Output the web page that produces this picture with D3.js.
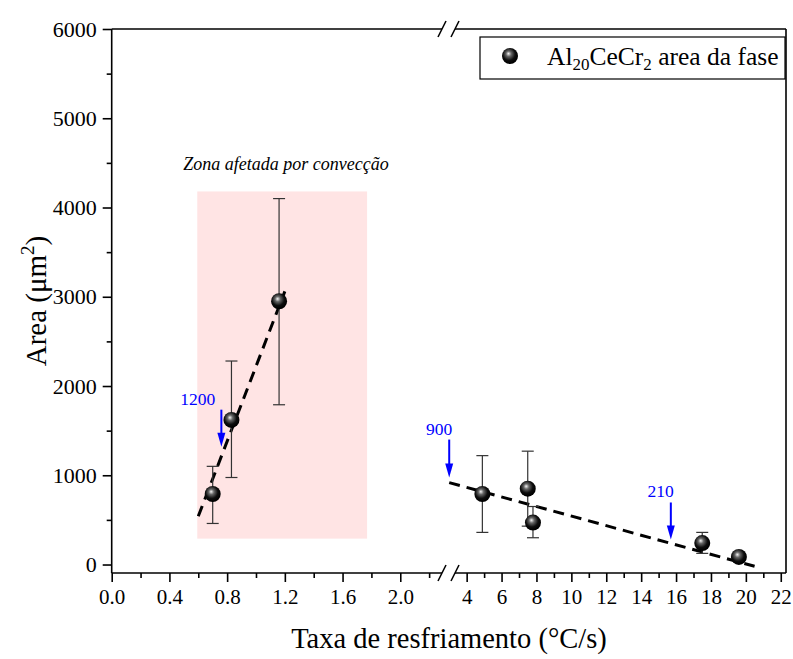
<!DOCTYPE html>
<html>
<head>
<meta charset="utf-8">
<script src="https://cdn.jsdelivr.net/npm/d3@7"></script>
<style>
  body { margin: 0; background: #fff; }
  svg text { font-family: "Liberation Serif", "DejaVu Serif", serif; }
</style>
</head>
<body>
<div id="vis"></div>
<script>
// data
var xLeft = [0.70, 0.83, 1.16];
var yLeft = [790, 1620, 2950];
var hiLeft = [1100, 2280, 4100];
var loLeft = [460, 975, 1790];

var xRight = [4.9, 7.5, 7.8, 17.5, 19.6];
var yRight = [790, 850, 470, 240, 85];
var hiRight = [1220, 1270, 650, 360, 130];
var loRight = [360, 430, 300, 125, 50];

// dashed fit lines
var fitLeftX = [0.6, 1.2];
var fitLeftY = [540, 3060];
var fitRightX = [3.0, 20.5];
var fitRightY = [918, -20];

// arrows (x, tail value, tip value, label)
var arrowSide = ["left", "right", "right"];
var arrowX = [0.76, 3.0, 15.7];
var arrowFrom = [1735, 1400, 695];
var arrowTo = [1320, 975, 280];
var arrowLabel = ["1200", "900", "210"];

// shaded zone
var zoneX = [0.593, 1.77];
var zoneY = [290, 4180];

var leftTicks = [0.0, 0.4, 0.8, 1.2, 1.6, 2.0];
var rightTicks = [4, 6, 8, 10, 12, 14, 16, 18, 20, 22];
var yTicks = [0, 1000, 2000, 3000, 4000, 5000, 6000];

var w = 793, h = 659;
var mTop = 29, mBottom = 573, mLeft = 111.7, mRight = 786;
var breakL = 445, breakR = 452;
var serif = "'Liberation Serif', 'DejaVu Serif', serif";

var svg = d3.select("#vis").append("svg")
  .attr("width", w).attr("height", h);

var defs = svg.append("defs");
var grad = defs.append("radialGradient").attr("id", "ball")
  .attr("cx", "45%").attr("cy", "40%").attr("r", "55%")
  .attr("fx", "40%").attr("fy", "35%");
grad.append("stop").attr("offset", "0%").attr("stop-color", "#f4f4f4");
grad.append("stop").attr("offset", "30%").attr("stop-color", "#666");
grad.append("stop").attr("offset", "70%").attr("stop-color", "#0d0d0d");
grad.append("stop").attr("offset", "100%").attr("stop-color", "#000");

var xL = d3.scaleLinear().domain([0, 2.31]).range([mLeft, breakL]);
var xR = d3.scaleLinear().domain([3.16, 22.3]).range([breakR, mRight]);
var y = d3.scaleLinear().domain([-95, 6000]).range([mBottom, mTop]);

// shaded zone
svg.append("rect")
  .attr("x", xL(zoneX[0])).attr("y", y(zoneY[1]))
  .attr("width", xL(zoneX[1]) - xL(zoneX[0]))
  .attr("height", y(zoneY[0]) - y(zoneY[1]))
  .attr("fill", "#ffe4e4");

svg.append("text")
  .attr("x", 286).attr("y", 170)
  .attr("text-anchor", "middle")
  .style("font-size", "18px").style("font-style", "italic")
  .text("Zona  afetada por convecção");

// frame
var frame = svg.append("g").attr("stroke", "#000").attr("stroke-width", 1.6).attr("fill", "none");
frame.append("line").attr("x1", mLeft).attr("x2", mLeft).attr("y1", mTop).attr("y2", mBottom);
frame.append("line").attr("x1", mRight).attr("x2", mRight).attr("y1", mTop).attr("y2", mBottom);
[mTop, mBottom].forEach(function (yy) {
  frame.append("line").attr("x1", mLeft).attr("x2", breakL - 3).attr("y1", yy).attr("y2", yy);
  frame.append("line").attr("x1", breakR + 3).attr("x2", mRight).attr("y1", yy).attr("y2", yy);
  frame.append("line").attr("x1", breakL - 7).attr("x2", breakL + 1).attr("y1", yy + 8).attr("y2", yy - 8);
  frame.append("line").attr("x1", breakR - 1).attr("x2", breakR + 7).attr("y1", yy + 8).attr("y2", yy - 8);
});

// axes
function styleAxis(size) {
  return function (g) {
    g.select(".domain").remove();
    g.selectAll("line").attr("stroke", "#000").attr("stroke-width", 1.6);
    g.selectAll("text").style("font-size", size + "px").attr("fill", "#000")
      .style("font-family", serif);
  };
}

svg.append("g").attr("transform", "translate(0," + mBottom + ")")
  .call(d3.axisBottom(xL).tickValues(leftTicks).tickFormat(d3.format(".1f")).tickSize(9).tickPadding(7))
  .call(styleAxis(21));
svg.append("g").attr("transform", "translate(0," + mBottom + ")")
  .call(d3.axisBottom(xL).tickValues([0.2, 0.6, 1.0, 1.4, 1.8, 2.2]).tickFormat("").tickSize(5))
  .call(styleAxis(21));
svg.append("g").attr("transform", "translate(0," + mBottom + ")")
  .call(d3.axisBottom(xR).tickValues(rightTicks).tickFormat(d3.format("d")).tickSize(9).tickPadding(7))
  .call(styleAxis(21));
svg.append("g").attr("transform", "translate(0," + mBottom + ")")
  .call(d3.axisBottom(xR).tickValues(d3.range(5, 22, 2)).tickFormat("").tickSize(5))
  .call(styleAxis(21));

svg.append("g").attr("transform", "translate(" + mLeft + ",0)")
  .call(d3.axisLeft(y).tickValues(yTicks).tickFormat(d3.format("d")).tickSize(9).tickPadding(6))
  .call(styleAxis(22));
svg.append("g").attr("transform", "translate(" + mLeft + ",0)")
  .call(d3.axisLeft(y).tickValues([500, 1500, 2500, 3500, 4500, 5500]).tickFormat("").tickSize(5))
  .call(styleAxis(22));

// axis titles
svg.append("text")
  .attr("x", 449).attr("y", 648)
  .attr("text-anchor", "middle").style("font-size", "28.5px")
  .text("Taxa de resfriamento (°C/s)");

var yt = svg.append("text")
  .attr("transform", "translate(46,301) rotate(-90)")
  .attr("text-anchor", "middle").style("font-size", "29px");
yt.append("tspan").text("Area (μm");
yt.append("tspan").style("font-size", "19px").attr("dy", -12).text("2");
yt.append("tspan").attr("dy", 12).text(")");

// fit lines
var line = d3.line();
svg.append("path")
  .attr("d", line(fitLeftX.map(function (d, i) { return [xL(d), y(fitLeftY[i])]; })))
  .attr("stroke", "#000").attr("stroke-width", 3).attr("stroke-dasharray", "11,7").attr("fill", "none");
svg.append("path")
  .attr("d", line(fitRightX.map(function (d, i) { return [xR(d), y(fitRightY[i])]; })))
  .attr("stroke", "#000").attr("stroke-width", 3).attr("stroke-dasharray", "11,7").attr("fill", "none");

// error bars + points
function drawSeries(xs, ys, his, los, sc) {
  var g = svg.append("g");
  xs.forEach(function (xv, i) {
    var cx = sc(xv);
    g.append("line").attr("x1", cx).attr("x2", cx).attr("y1", y(his[i])).attr("y2", y(los[i]))
      .attr("stroke", "#333").attr("stroke-width", 1.2);
    [his[i], los[i]].forEach(function (v) {
      g.append("line").attr("x1", cx - 6).attr("x2", cx + 6).attr("y1", y(v)).attr("y2", y(v))
        .attr("stroke", "#333").attr("stroke-width", 1.2);
    });
  });
  g.selectAll("circle").data(xs).enter().append("circle")
    .attr("cx", function (d) { return sc(d); })
    .attr("cy", function (d, i) { return y(ys[i]); })
    .attr("r", 8)
    .attr("fill", "url(#ball)");
}
drawSeries(xLeft, yLeft, hiLeft, loLeft, xL);
drawSeries(xRight, yRight, hiRight, loRight, xR);

// arrows
var labelDx = [-6, 3, 3];
arrowX.forEach(function (xv, i) {
  var sc = arrowSide[i] === "left" ? xL : xR;
  var ax = sc(xv), y0 = y(arrowFrom[i]), y1 = y(arrowTo[i]);
  svg.append("line").attr("x1", ax).attr("x2", ax).attr("y1", y0).attr("y2", y1 - 12)
    .attr("stroke", "#0000ff").attr("stroke-width", 2);
  svg.append("path")
    .attr("d", "M" + (ax - 4) + "," + (y1 - 14) + "L" + (ax + 4) + "," + (y1 - 14) + "L" + ax + "," + y1 + "Z")
    .attr("fill", "#0000ff");
  svg.append("text")
    .attr("x", ax + labelDx[i]).attr("y", y0 - 5)
    .attr("text-anchor", "end").style("font-size", "17.5px").attr("fill", "#0000ff")
    .text(arrowLabel[i]);
});

// legend
var lg = svg.append("g");
lg.append("rect").attr("x", 480).attr("y", 37).attr("width", 305).attr("height", 42)
  .attr("fill", "#fff").attr("stroke", "#000").attr("stroke-width", 1.2);
lg.append("circle").attr("cx", 510).attr("cy", 56).attr("r", 8).attr("fill", "url(#ball)");
var lt = lg.append("text").attr("x", 547).attr("y", 65).style("font-size", "25.5px");
lt.append("tspan").text("Al");
lt.append("tspan").style("font-size", "17px").attr("dy", 5).text("20");
lt.append("tspan").attr("dy", -5).text("CeCr");
lt.append("tspan").style("font-size", "17px").attr("dy", 5).text("2");
lt.append("tspan").attr("dy", -5).text(" area da fase");
</script>
</body>
</html>
